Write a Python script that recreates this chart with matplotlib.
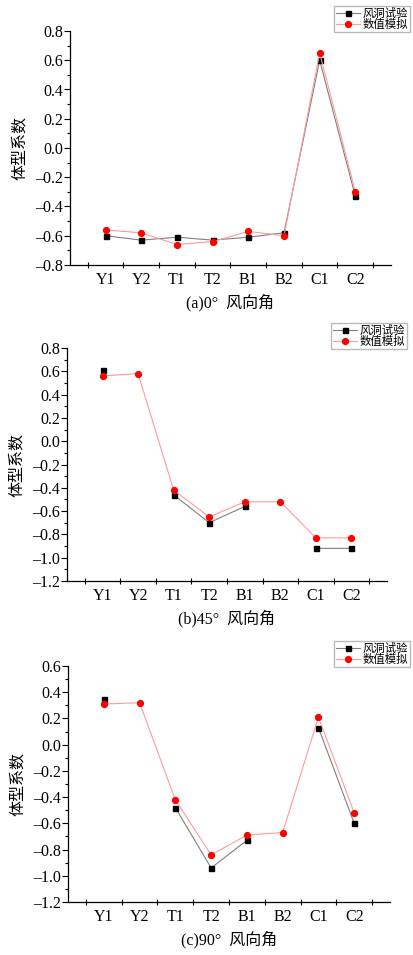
import numpy as np
import matplotlib
matplotlib.use("Agg")
import matplotlib.pyplot as plt
from matplotlib.ticker import MultipleLocator, FuncFormatter, FixedLocator

plt.rcParams['font.family'] = ['Liberation Serif', 'Noto Sans CJK SC', 'DejaVu Sans']

categories = ["Y1", "Y2", "T1", "T2", "B1", "B2", "C1", "C2"]
nan = np.nan
exp_0 = [-0.60, -0.63, -0.61, -0.63, -0.61, -0.58, 0.60, -0.33]
sim_0 = [-0.56, -0.58, -0.66, -0.64, -0.57, -0.60, 0.65, -0.30]
exp_45 = [0.61, nan, -0.46, -0.70, -0.56, nan, -0.92, -0.92]
sim_45 = [0.56, 0.58, -0.42, -0.65, -0.52, -0.52, -0.83, -0.83]
exp_90 = [0.35, nan, -0.48, -0.94, -0.73, nan, 0.13, -0.60]
sim_90 = [0.31, 0.32, -0.42, -0.84, -0.69, -0.67, 0.21, -0.52]
captions = ["(a)0°  风向角", "(b)45°  风向角", "(c)90°  风向角"]
legend_labels = ["风洞试验", "数值模拟"]
ylabel = "体型系数"

W, H = 414, 955
fig = plt.figure(figsize=(W / 100, H / 100), dpi=100)

# axes boxes in pixels: left, right, top, bottom
boxes = [(70, 391, 31, 265), (67, 387, 348, 581), (68, 390, 666, 902)]
ylims = [(-0.8, 0.8), (-1.2, 0.8), (-1.2, 0.6)]
legend_boxes = [(334, 6), (331, 323), (334, 641)]
data = [(exp_0, sim_0), (exp_45, sim_45), (exp_90, sim_90)]

fmt = FuncFormatter(lambda v, p: f"{v:.1f}".replace("-", "–") if abs(v) > 1e-9 else "0.0")
x = np.arange(1, len(categories) + 1)

for i in range(3):
    l, r, t, b = boxes[i]
    ax = fig.add_axes([l / W, 1 - b / H, (r - l) / W, (b - t) / H])
    e, s = data[i]
    h1, = ax.plot(x, e, color='#808080', lw=0.8, marker='s', ms=3.6,
                  mfc='black', mec='black', zorder=3)
    h2, = ax.plot(x, s, color='#ff9a9a', lw=0.8, marker='o', ms=4.2,
                  mfc='red', mec='red', zorder=4)
    ax.set_xlim(0, 9)
    ax.set_ylim(*ylims[i])
    ax.spines['top'].set_visible(False)
    ax.spines['right'].set_visible(False)
    for sp in ['left', 'bottom']:
        ax.spines[sp].set_linewidth(0.9)
    ax.set_xticks(x)
    ax.set_xticklabels(categories, fontsize=11.5)
    ax.xaxis.set_minor_locator(FixedLocator(np.arange(0.5, 9.0, 1.0)))
    ax.tick_params(axis='x', which='major', length=0, pad=5)
    ax.tick_params(axis='x', which='minor', length=4, direction='inout', width=0.8)
    ax.yaxis.set_major_locator(MultipleLocator(0.2))
    ax.yaxis.set_minor_locator(MultipleLocator(0.1))
    ax.yaxis.set_major_formatter(fmt)
    ax.tick_params(axis='y', which='major', length=4, direction='out', width=0.8, labelsize=11.5, pad=1)
    ax.tick_params(axis='y', which='minor', length=2.5, direction='out', width=0.8)
    ax.set_ylabel(ylabel, family=['Noto Sans CJK SC'], fontsize=11.5, labelpad=5)
    ax.set_xlabel(captions[i], fontsize=11.5, labelpad=4)
    lx, ly = legend_boxes[i]
    fig.legend([h1, h2], legend_labels, loc='upper left',
               bbox_to_anchor=(lx / W, 1 - ly / H), prop={'family': ['Noto Sans CJK SC'], 'size': 8.2},
               frameon=True, fancybox=False, edgecolor='#aaaaaa', borderpad=0.15,
               handlelength=2.1, handletextpad=0.3, labelspacing=0.05, borderaxespad=0,
               markerscale=1.0)

fig.savefig("out.png", dpi=100, facecolor='white')
